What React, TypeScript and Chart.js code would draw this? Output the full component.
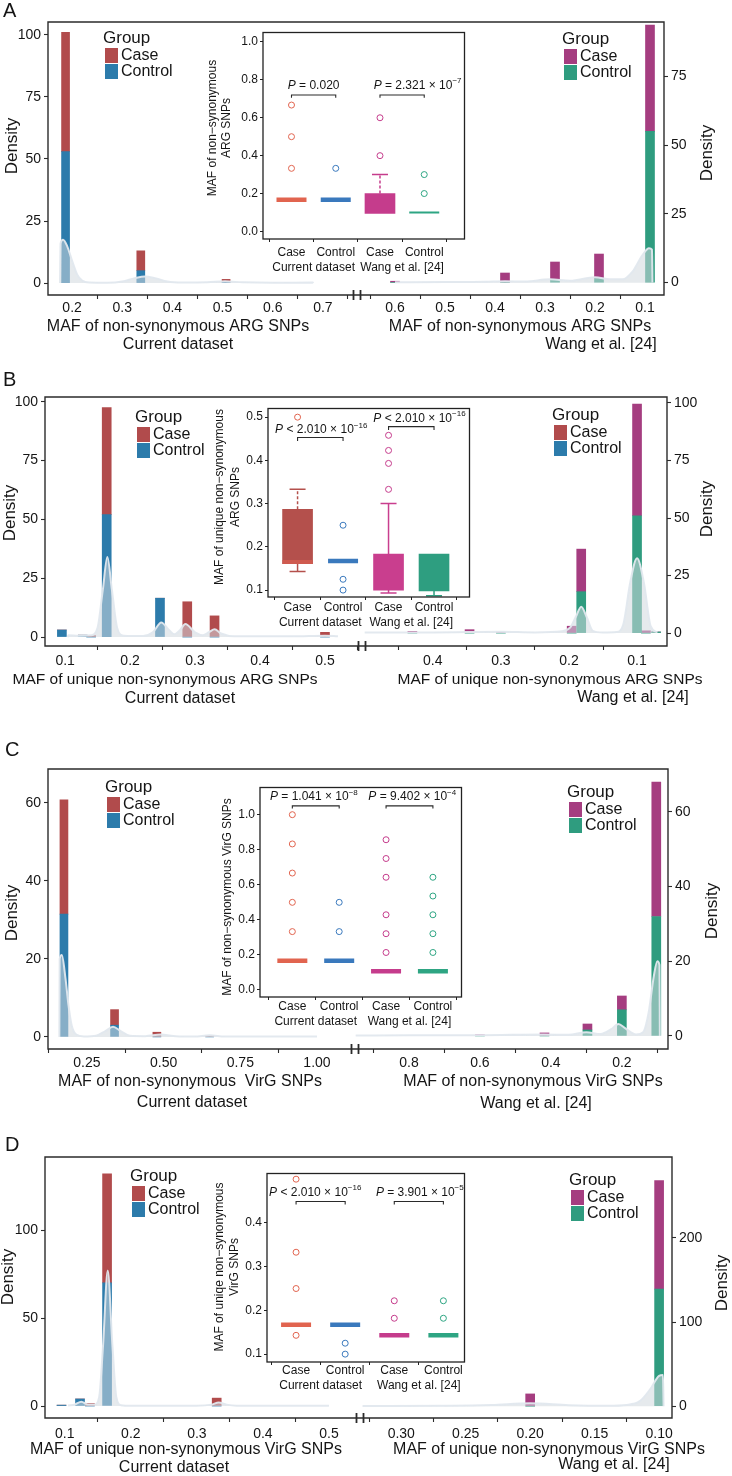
import React, { useEffect, useRef } from 'react';
import { Chart, registerables } from 'chart.js';

Chart.register(...registerables);

const FONT = '"Liberation Sans", Arial, Helvetica, sans-serif';
Chart.defaults.font.family = FONT;

const AXIS = '#2b2b2b';
const INK = '#151515';
const DENS_FILL = 'rgba(210,216,222,0.55)';
const DENS_LINE = 'rgba(225,232,238,0.95)';
const CUR_CASE = '#b14b4c';
const CUR_CTRL = '#2c7bab';
const WANG_CASE = '#a53d80';
const WANG_CTRL = '#2f9c7f';
const IN_COLORS = ['#e1644f', '#3a79bd', '#c53c8c', '#2ea583'];

// ---------- shared text ----------
const Y_TITLE = 'Density';
const LEGEND_TITLE = 'Group';
const LEGEND_KEYS = ['Case', 'Control'];
const CURRENT = 'Current dataset';
const WANG = 'Wang et al. [24]';
const INSET_CATS = ['Case', 'Control', 'Case', 'Control'];
const INSET_GROUPS = [CURRENT, WANG];

// ---------- Panel A ----------
const A_X_TITLE = 'MAF of non-synonymous ARG SNPs';
const A_L_XTICKS = [0.2, 0.3, 0.4, 0.5, 0.6, 0.7];
const A_L_YTICKS = [0, 25, 50, 75, 100];
const A_L_BAR_X = [0.187, 0.337, 0.507];
const A_L_CONTROL = [53, 5, 0.3];
const A_L_CASE = [48, 8, 1.2];
const A_L_DENS_X = [0.176, 0.177, 0.182, 0.19, 0.2, 0.21, 0.22, 0.235, 0.27, 0.3, 0.325, 0.345, 0.365, 0.39, 0.42, 0.47, 0.505, 0.54, 0.6, 0.68, 0.681];
const A_L_DENS_Y = [0, 16, 17.5, 15, 9, 3.5, 1, 0.2, 0.1, 0.6, 2, 2.7, 2, 0.6, 0.2, 0.3, 0.7, 0.3, 0.1, 0.2, 0];
const A_R_XTICKS = [0.1, 0.2, 0.3, 0.4, 0.5, 0.6];
const A_R_YTICKS = [0, 25, 50, 75];
const A_R_BAR_X = [0.09, 0.192, 0.28, 0.38, 0.6];
const A_R_CONTROL = [55, 1.5, 1, 0, 0];
const A_R_CASE = [38.7, 8.9, 6.5, 3.5, 0.5];
const A_R_DENS_X = [0.085, 0.086, 0.092, 0.105, 0.125, 0.145, 0.17, 0.2, 0.25, 0.29, 0.34, 0.38, 0.42, 0.5, 0.6];
const A_R_DENS_Y = [0, 12, 12.5, 10, 4, 1.2, 1.2, 2, 0.7, 1.2, 0.4, 0.5, 0.3, 0.2, 0.1];
const A_IN_Y_TITLE = ['MAF of non\u2212synonymous', 'ARG SNPs'];
const A_IN_YTICKS = [0, 0.2, 0.4, 0.6, 0.8, 1.0];
const A_IN_MEDIAN = [0.167, 0.167, null, 0.1];
const A_IN_BOX = [null, null, [0.095, 0.2], null];
const A_IN_WHISKERS = [[3, 0.2, 0.3]];
const A_IN_OUTLIERS = [[0.667, 0.5, 0.333], [0.333], [0.6, 0.4], [0.3, 0.2]];
const A_IN_P = ['P = 0.020', 'P = 2.321 \u00d7 10^\u22127'];

// ---------- Panel B ----------
const B_X_TITLE = 'MAF of unique non-synonymous ARG SNPs';
const B_L_XTICKS = [0.1, 0.2, 0.3, 0.4, 0.5];
const B_L_YTICKS = [0, 25, 50, 75, 100];
const B_L_BAR_X = [0.095, 0.127, 0.14, 0.164, 0.246, 0.288, 0.33, 0.5];
const B_L_CONTROL = [3, 0.8, 0, 52, 16.5, 0, 0, 0];
const B_L_CASE = [0, 0, 0.6, 45.5, 0, 15, 9, 2];
const B_L_DENS_X = [0.104, 0.105, 0.12, 0.14, 0.15, 0.158, 0.165, 0.172, 0.18, 0.19, 0.22, 0.235, 0.248, 0.26, 0.268, 0.277, 0.285, 0.3, 0.312, 0.322, 0.33, 0.34, 0.36, 0.45, 0.5, 0.52];
const B_L_DENS_Y = [0, 0.8, 0.6, 0.8, 4, 20, 34, 20, 4, 0.6, 0.4, 2, 6.2, 3, 1.2, 3, 5.5, 2, 0.8, 2.2, 3.3, 1.5, 0.3, 0.3, 0.6, 0.3];
const B_R_XTICKS = [0.1, 0.2, 0.3, 0.4];
const B_R_YTICKS = [0, 25, 50, 75, 100];
const B_R_BAR_X = [0.072, 0.087, 0.1, 0.182, 0.196, 0.3, 0.346, 0.43];
const B_R_CONTROL = [0.5, 0, 51, 18, 0, 0, 0, 0];
const B_R_CASE = [0, 1, 48.5, 18.5, 3, 0.4, 1.5, 0.7];
const B_R_DENS_X = [0.07, 0.08, 0.09, 0.1, 0.11, 0.12, 0.13, 0.15, 0.165, 0.174, 0.182, 0.19, 0.198, 0.21, 0.25, 0.3, 0.4, 0.5];
const B_R_DENS_Y = [0.3, 3, 22, 32.5, 22, 4, 0.5, 0.3, 1, 7, 11.5, 7, 2.5, 0.8, 0.3, 0.6, 0.3, 0.3];
const B_IN_Y_TITLE = ['MAF of unique non\u2212synonymous', 'ARG SNPs'];
const B_IN_YTICKS = [0.1, 0.2, 0.3, 0.4, 0.5];
const B_IN_MEDIAN = [0.165, 0.167, null, null];
const B_IN_BOX = [[0.161, 0.287], null, [0.1, 0.183], [0.098, 0.183]];
const B_IN_WHISKERS = [[1, 0.287, 0.333], [1, 0.161, 0.143], [3, 0.183, 0.3], [3, 0.1, 0.093], [4, 0.098, 0.087]];
const B_IN_OUTLIERS = [[0.5], [0.25, 0.125, 0.1], [0.458, 0.423, 0.393, 0.333], []];
const B_IN_P = ['P < 2.010 \u00d7 10^\u221216', 'P < 2.010 \u00d7 10^\u221216'];

// ---------- Panel C ----------
const C_L_X_TITLE = 'MAF of non-synonymous  VirG SNPs';
const C_R_X_TITLE = 'MAF of non-synonymous VirG SNPs';
const C_L_XTICKS = [0.25, 0.5, 0.75, 1.0];
const C_L_YTICKS = [0, 20, 40, 60];
const C_L_BAR_X = [0.175, 0.34, 0.478, 0.65];
const C_L_CONTROL = [31.5, 3, 0, 0];
const C_L_CASE = [29.3, 4, 1.2, 0.3];
const C_L_DENS_X = [0.16, 0.161, 0.168, 0.18, 0.19, 0.2, 0.215, 0.24, 0.28, 0.31, 0.335, 0.36, 0.39, 0.44, 0.49, 0.54, 0.6, 0.65, 0.7, 0.85, 1.0];
const C_L_DENS_Y = [0, 20, 21, 15, 8, 3, 0.6, 0.1, 0.3, 1.5, 2.6, 1.5, 0.3, 0.2, 0.6, 0.2, 0.1, 0.4, 0.1, 0.1, 0.1];
const C_R_XTICKS = [0.2, 0.4, 0.6, 0.8];
const C_R_YTICKS = [0, 20, 40, 60];
const C_R_BAR_X = [0.103, 0.2, 0.297, 0.418, 0.6];
const C_R_CONTROL = [32, 7, 1.6, 0, 0];
const C_R_CASE = [36, 3.7, 1.6, 0.8, 0.3];
const C_R_DENS_X = [0.093, 0.094, 0.1, 0.11, 0.125, 0.14, 0.16, 0.19, 0.21, 0.23, 0.26, 0.3, 0.35, 0.42, 0.6, 0.8, 0.95];
const C_R_DENS_Y = [0, 19, 20, 16, 6, 1, 0.4, 2, 3.2, 1.8, 0.5, 1, 0.3, 0.4, 0.2, 0.2, 0.1];
const C_IN_Y_TITLE = ['MAF of non\u2212synonymous VirG SNPs'];
const C_IN_YTICKS = [0, 0.2, 0.4, 0.6, 0.8, 1.0];
const C_IN_MEDIAN = [0.167, 0.167, 0.107, 0.107];
const C_IN_OUTLIERS = [[1.0, 0.833, 0.667, 0.5, 0.333], [0.5, 0.333], [0.857, 0.75, 0.643, 0.429, 0.321, 0.214], [0.643, 0.536, 0.429, 0.321, 0.214]];
const C_IN_P = ['P = 1.041 \u00d7 10^\u22128', 'P = 9.402 \u00d7 10^\u22124'];

// ---------- Panel D ----------
const D_X_TITLE = 'MAF of unique non-synonymous VirG SNPs';
const D_L_XTICKS = [0.1, 0.2, 0.3, 0.4, 0.5];
const D_L_YTICKS = [0, 50, 100];
const D_L_BAR_X = [0.095, 0.123, 0.138, 0.164, 0.33];
const D_L_CONTROL = [0.5, 4, 0, 70, 0];
const D_L_CASE = [0, 0, 1.5, 62, 4.5];
const D_L_DENS_X = [0.105, 0.115, 0.125, 0.135, 0.145, 0.152, 0.158, 0.165, 0.172, 0.178, 0.185, 0.2, 0.3, 0.322, 0.333, 0.345, 0.36, 0.5];
const D_L_DENS_Y = [0.3, 0.8, 2.5, 0.8, 0.8, 5, 35, 77, 35, 5, 0.5, 0.2, 0.2, 0.8, 2, 0.8, 0.2, 0.2];
const D_R_XTICKS = [0.1, 0.15, 0.2, 0.25, 0.3];
const D_R_YTICKS = [0, 100, 200];
const D_R_BAR_X = [0.1, 0.2];
const D_R_CONTROL = [139, 0];
const D_R_CASE = [129, 14.6];
const D_R_DENS_X = [0.0965, 0.097, 0.1, 0.107, 0.115, 0.125, 0.14, 0.17, 0.2, 0.23, 0.26, 0.33];
const D_R_DENS_Y = [0, 37, 36, 20, 6, 1.5, 0.5, 1.2, 3.5, 1.5, 0.6, 0.3];
const D_IN_Y_TITLE = ['MAF of uniqe non\u2212synonymous', 'VirG SNPs'];
const D_IN_YTICKS = [0.1, 0.2, 0.3, 0.4];
const D_IN_MEDIAN = [0.167, 0.167, 0.143, 0.143];
const D_IN_OUTLIERS = [[0.5, 0.333, 0.25, 0.143], [0.125, 0.1], [0.222, 0.182], [0.222, 0.182]];
const D_IN_P = ['P < 2.010 \u00d7 10^\u221216', 'P = 3.901 \u00d7 10^\u22125'];

// ---------- helpers ----------
type TextItem = { t: string; x: number; y: number; size: number; rot?: boolean; align?: CanvasTextAlign };

function drawTexts(ctx: CanvasRenderingContext2D, items: TextItem[], ox: number, oy: number) {
  items.forEach((it) => {
    ctx.save();
    ctx.fillStyle = INK;
    ctx.font = `${it.size}px ${FONT}`;
    ctx.textBaseline = 'middle';
    ctx.textAlign = it.align || 'center';
    ctx.translate(it.x - ox, it.y - oy);
    if (it.rot) ctx.rotate(-Math.PI / 2);
    ctx.fillText(it.t, 0, 0);
    ctx.restore();
  });
}

function drawRich(ctx: CanvasRenderingContext2D, label: string, cx: number, cy: number, size: number) {
  const [main, sup] = label.split('^');
  const parts: { t: string; f: string; dy: number }[] = [
    { t: main.slice(0, 1), f: `italic ${size}px ${FONT}`, dy: 0 },
    { t: main.slice(1), f: `${size}px ${FONT}`, dy: 0 },
  ];
  if (sup) parts.push({ t: sup, f: `${Math.round(size * 0.68)}px ${FONT}`, dy: -size * 0.4 });
  let total = 0;
  const ws = parts.map((p) => {
    ctx.font = p.f;
    const w = ctx.measureText(p.t).width;
    total += w;
    return w;
  });
  let x = cx - total / 2;
  ctx.fillStyle = INK;
  ctx.textAlign = 'left';
  ctx.textBaseline = 'middle';
  parts.forEach((p, i) => {
    ctx.font = p.f;
    ctx.fillText(p.t, x, cy + p.dy);
    x += ws[i];
  });
}

function fixedTicks(values: number[]) {
  return (sc: any) => {
    sc.ticks = values.map((v) => ({ value: v }));
  };
}

function halfConfig(s: any) {
  const isLeft = s.side === 'left';
  const padTop = s.ay0 - s.cy;
  const xH = s.cy + s.ch - s.ay1;
  const yW = isLeft ? s.ax0 - s.cx : s.cx + s.cw - s.ax1;
  const gridOpts = { display: true, drawOnChartArea: false, drawTicks: true, tickLength: 4, tickColor: AXIS, tickWidth: 1.1 };
  const datasets: any[] = [
    {
      type: 'line',
      data: s.densX.map((x: number, i: number) => ({ x, y: s.densY[i] })),
      fill: 'origin',
      backgroundColor: DENS_FILL,
      borderColor: DENS_LINE,
      borderWidth: 2,
      pointRadius: 0,
      cubicInterpolationMode: 'monotone',
      tension: 0.4,
      order: 0,
    },
    {
      type: 'bar',
      label: LEGEND_KEYS[1],
      data: s.barX.map((x: number, i: number) => ({ x, y: s.ctrl[i] })),
      backgroundColor: s.barColors[1],
      barThickness: s.barW,
      order: 1,
    },
    {
      type: 'bar',
      label: LEGEND_KEYS[0],
      data: s.barX.map((x: number, i: number) => ({ x, y: s.cases[i] })),
      backgroundColor: s.barColors[0],
      barThickness: s.barW,
      order: 2,
    },
  ];
  const decor = {
    id: 'halfDecor',
    afterDraw(chart: any) {
      const { ctx, chartArea: a } = chart;
      ctx.save();
      ctx.strokeStyle = AXIS;
      ctx.lineWidth = 1.4;
      ctx.beginPath();
      if (isLeft) {
        ctx.moveTo(a.right, a.top);
        ctx.lineTo(a.left, a.top);
        ctx.lineTo(a.left, a.bottom);
        ctx.lineTo(a.right, a.bottom);
      } else {
        ctx.moveTo(a.left, a.top);
        ctx.lineTo(a.right, a.top);
        ctx.lineTo(a.right, a.bottom);
        ctx.lineTo(a.left, a.bottom);
      }
      ctx.stroke();
      if (!isLeft) {
        ctx.lineWidth = 1.8;
        ctx.beginPath();
        ctx.moveTo(a.left - 3.5, a.bottom - 5);
        ctx.lineTo(a.left - 3.5, a.bottom + 5);
        ctx.moveTo(a.left + 3.5, a.bottom - 5);
        ctx.lineTo(a.left + 3.5, a.bottom + 5);
        ctx.stroke();
      }
      // legend
      const lx = s.legend[0] - s.cx;
      const ly = s.legend[1] - s.cy;
      ctx.fillStyle = INK;
      ctx.textAlign = 'left';
      ctx.textBaseline = 'middle';
      ctx.font = `17px ${FONT}`;
      ctx.fillText(LEGEND_TITLE, lx, ly);
      s.legendColors.forEach((c: string, i: number) => {
        ctx.fillStyle = c;
        ctx.fillRect(lx + 2, ly + 10 + 16 * i, 13, 15);
        ctx.fillStyle = INK;
        ctx.font = `16px ${FONT}`;
        ctx.fillText(LEGEND_KEYS[i], lx + 18, ly + 18 + 16 * i);
      });
      drawTexts(ctx, s.texts, s.cx, s.cy);
      ctx.restore();
    },
  };
  return {
    type: 'bar',
    data: { datasets },
    options: {
      responsive: false,
      animation: false,
      events: [],
      layout: {
        padding: {
          left: isLeft ? 0 : s.ax0 - s.cx,
          right: isLeft ? s.cx + s.cw - s.ax1 : 0,
          top: padTop,
          bottom: 0,
        },
      },
      plugins: { legend: { display: false }, tooltip: { enabled: false }, title: { display: false } },
      scales: {
        x: {
          type: 'linear',
          min: s.xMin,
          max: s.xMax,
          reverse: !isLeft,
          stacked: true,
          offset: false,
          grid: gridOpts,
          border: { display: false },
          ticks: {
            autoSkip: false,
            maxRotation: 0,
            minRotation: 0,
            padding: s.xPad,
            color: INK,
            font: { family: FONT, size: 14 },
            callback: (v: any) => Number(v).toFixed(s.xDigits),
          },
          afterBuildTicks: fixedTicks(s.xTicks),
          afterFit: (sc: any) => {
            sc.height = xH;
            sc.paddingLeft = 0;
            sc.paddingRight = 0;
          },
        },
        y: {
          type: 'linear',
          position: s.side,
          min: s.yMin,
          max: s.yMax,
          stacked: true,
          grid: gridOpts,
          border: { display: false },
          ticks: {
            autoSkip: false,
            padding: 3,
            color: INK,
            font: { family: FONT, size: 14 },
            callback: (v: any) => String(v),
          },
          afterBuildTicks: fixedTicks(s.yTicks),
          afterFit: (sc: any) => {
            sc.width = yW;
            sc.paddingTop = 0;
            sc.paddingBottom = 0;
          },
        },
      },
    },
    plugins: [decor],
  };
}

function insetConfig(s: any) {
  const cx = s.x0 - 64;
  const cy = s.y0 - 14;
  const cw = s.x1 - cx + 16;
  const ch = s.y1 - cy + 42;
  const boxData: any[] = [];
  const boxCol: string[] = [];
  s.boxes.forEach((b: any, i: number) => {
    if (b) {
      boxData.push({ x: i + 1, y: b });
      boxCol.push(s.boxColors[i]);
    }
  });
  const medData: any[] = [];
  const medW: number[] = [];
  const medCol: string[] = [];
  s.medians.forEach((m: any, i: number) => {
    if (m !== null) {
      medData.push({ x: i + 1, y: m });
      medW.push(s.medW[i]);
      medCol.push(s.medColors[i]);
    }
  });
  const outData: any[] = [];
  const outCol: string[] = [];
  s.outliers.forEach((arr: number[], i: number) =>
    arr.forEach((v) => {
      outData.push({ x: i + 1, y: v });
      outCol.push(s.colors[i]);
    })
  );
  const br: any[] = [];
  s.brackets.forEach((b: number[], k: number) => {
    const a = 1 + 2 * k;
    const c = a + 1;
    br.push({ x: a, y: b[0] - b[1] }, { x: a, y: b[0] }, { x: c, y: b[0] }, { x: c, y: b[0] - b[1] });
    if (k === 0) br.push({ x: 2.5, y: null });
  });
  const datasets: any[] = [
    {
      type: 'bar',
      data: boxData,
      backgroundColor: boxCol,
      barThickness: 30,
      grouped: false,
      order: 5,
    },
    ...s.whiskers.map((w: number[], k: number) => ({
      type: 'line',
      data: [{ x: w[0], y: w[1] }, { x: w[0], y: w[2] }],
      borderColor: s.boxColors[w[0] - 1],
      borderWidth: 1.5,
      borderDash: s.whiskerDash[k] ? [3, 2] : [],
      pointRadius: 0,
      order: 3,
    })),
    {
      type: 'line',
      showLine: false,
      data: s.whiskers.map((w: number[]) => ({ x: w[0], y: w[2] })),
      pointStyle: 'line',
      pointRadius: 8,
      pointBorderWidth: 1.5,
      pointBorderColor: s.whiskers.map((w: number[]) => s.boxColors[w[0] - 1]),
      order: 3,
    },
    {
      type: 'line',
      showLine: false,
      data: medData,
      pointStyle: 'line',
      pointRadius: 15,
      pointBorderWidth: medW,
      pointBorderColor: medCol,
      order: 2,
    },
    {
      type: 'line',
      showLine: false,
      data: outData,
      pointStyle: 'circle',
      pointRadius: 3,
      pointBorderWidth: 1,
      pointBackgroundColor: 'rgba(255,255,255,0)',
      pointBorderColor: outCol,
      order: 1,
    },
    {
      type: 'line',
      data: br,
      borderColor: '#2a2a2a',
      borderWidth: 1.1,
      pointRadius: 0,
      spanGaps: false,
      order: 0,
    },
  ];
  const tl = 3;
  const xPad = s.catY - s.y1 - tl - 7.2;
  const decor = {
    id: 'insetDecor',
    afterDraw(chart: any) {
      const { ctx, chartArea: a } = chart;
      const xs = chart.scales.x;
      const ys = chart.scales.y;
      ctx.save();
      ctx.strokeStyle = '#222';
      ctx.lineWidth = 1.3;
      ctx.strokeRect(a.left, a.top, a.right - a.left, a.bottom - a.top);
      ctx.fillStyle = INK;
      ctx.font = `12px ${FONT}`;
      ctx.textAlign = 'center';
      ctx.textBaseline = 'middle';
      s.yTitle.forEach((t: string, i: number) => {
        ctx.save();
        ctx.translate(s.yTitleX[i] - cx, s.yTitleY - cy);
        ctx.rotate(-Math.PI / 2);
        ctx.fillText(t, 0, 0);
        ctx.restore();
      });
      INSET_GROUPS.forEach((g, i) => {
        ctx.fillText(g, xs.getPixelForValue(1.5 + 2 * i), s.groupY - cy);
      });
      s.pLabels.forEach((p: string, i: number) => {
        drawRich(ctx, p, xs.getPixelForValue(s.pX[i]), ys.getPixelForValue(s.pY[i]), 12);
      });
      ctx.restore();
    },
  };
  const gridOpts = { display: true, drawOnChartArea: false, drawTicks: true, tickLength: tl, tickColor: '#222', tickWidth: 1 };
  return {
    type: 'bar',
    data: { datasets },
    options: {
      responsive: false,
      animation: false,
      events: [],
      layout: { padding: { left: 0, right: cw - (s.x1 - cx), top: s.y0 - cy, bottom: 0 } },
      plugins: { legend: { display: false }, tooltip: { enabled: false } },
      scales: {
        x: {
          type: 'linear',
          min: s.xMin,
          max: s.xMax,
          offset: false,
          grid: gridOpts,
          border: { display: false },
          ticks: {
            autoSkip: false,
            maxRotation: 0,
            padding: xPad,
            color: INK,
            font: { family: FONT, size: 12 },
            callback: (v: any) => INSET_CATS[Number(v) - 1] || '',
          },
          afterBuildTicks: fixedTicks([1, 2, 3, 4]),
          afterFit: (sc: any) => {
            sc.height = ch - (s.y1 - cy);
            sc.paddingLeft = 0;
            sc.paddingRight = 0;
          },
        },
        y: {
          type: 'linear',
          min: s.yMin,
          max: s.yMax,
          grid: gridOpts,
          border: { display: false },
          ticks: {
            autoSkip: false,
            padding: 2,
            color: INK,
            font: { family: FONT, size: 12 },
            callback: (v: any) => Number(v).toFixed(1),
          },
          afterBuildTicks: fixedTicks(s.yTicks),
          afterFit: (sc: any) => {
            sc.width = s.x0 - cx;
            sc.paddingTop = 0;
            sc.paddingBottom = 0;
          },
        },
      },
    },
    plugins: [decor],
  };
}

// ---------- layout specs ----------
const HALVES: any[] = [
  {
    side: 'left', cx: 0, cw: 357, cy: 0, ch: 358, ax0: 48, ax1: 357, ay0: 22, ay1: 295,
    xMin: 0.152, xMax: 0.768, xTicks: A_L_XTICKS, xDigits: 1, xPad: 1,
    yMin: -4.8, yMax: 105.2, yTicks: A_L_YTICKS,
    barX: A_L_BAR_X, ctrl: A_L_CONTROL, cases: A_L_CASE, barW: 8, densX: A_L_DENS_X, densY: A_L_DENS_Y,
    barColors: [CUR_CASE, CUR_CTRL], legendColors: [CUR_CASE, CUR_CTRL], legend: [103, 38],
    texts: [
      { t: 'A', x: 3, y: 11, size: 20, align: 'left' },
      { t: Y_TITLE, x: 12, y: 146, size: 17, rot: true },
      { t: A_X_TITLE, x: 178, y: 327, size: 16 },
      { t: CURRENT, x: 178, y: 345, size: 16 },
    ],
  },
  {
    side: 'right', cx: 347, cw: 385, cy: 0, ch: 358, ax0: 357, ax1: 664, ay0: 22, ay1: 295,
    xMin: 0.062, xMax: 0.676, xTicks: A_R_XTICKS, xDigits: 1, xPad: 1,
    yMin: -4.5, yMax: 94.8, yTicks: A_R_YTICKS,
    barX: A_R_BAR_X, ctrl: A_R_CONTROL, cases: A_R_CASE, barW: 9, densX: A_R_DENS_X, densY: A_R_DENS_Y,
    barColors: [WANG_CASE, WANG_CTRL], legendColors: [WANG_CASE, WANG_CTRL], legend: [562, 39],
    texts: [
      { t: Y_TITLE, x: 707, y: 153, size: 17, rot: true },
      { t: A_X_TITLE, x: 520, y: 327, size: 16 },
      { t: WANG, x: 601, y: 345, size: 16 },
    ],
  },
  {
    side: 'left', cx: 0, cw: 362, cy: 366, ch: 342, ax0: 45, ax1: 362, ay0: 397, ay1: 646,
    xMin: 0.069, xMax: 0.557, xTicks: B_L_XTICKS, xDigits: 1, xPad: 2.6,
    yMin: -3.8, yMax: 102, yTicks: B_L_YTICKS,
    barX: B_L_BAR_X, ctrl: B_L_CONTROL, cases: B_L_CASE, barW: 9, densX: B_L_DENS_X, densY: B_L_DENS_Y,
    barColors: [CUR_CASE, CUR_CTRL], legendColors: [CUR_CASE, CUR_CTRL], legend: [135, 417],
    texts: [
      { t: 'B', x: 3, y: 380, size: 20, align: 'left' },
      { t: Y_TITLE, x: 10, y: 513, size: 17, rot: true },
      { t: B_X_TITLE, x: 165, y: 680, size: 15.5 },
      { t: CURRENT, x: 180, y: 699, size: 16 },
    ],
  },
  {
    side: 'right', cx: 352, cw: 380, cy: 366, ch: 342, ax0: 362, ax1: 667, ay0: 397, ay1: 646,
    xMin: 0.056, xMax: 0.504, xTicks: B_R_XTICKS, xDigits: 1, xPad: 2.6,
    yMin: -5.6, yMax: 102.6, yTicks: B_R_YTICKS,
    barX: B_R_BAR_X, ctrl: B_R_CONTROL, cases: B_R_CASE, barW: 9, densX: B_R_DENS_X, densY: B_R_DENS_Y,
    barColors: [WANG_CASE, WANG_CTRL], legendColors: [CUR_CASE, CUR_CTRL], legend: [552, 415],
    texts: [
      { t: Y_TITLE, x: 707, y: 509, size: 17, rot: true },
      { t: B_X_TITLE, x: 550, y: 680, size: 15.5 },
      { t: WANG, x: 633, y: 698, size: 16 },
    ],
  },
  {
    side: 'left', cx: 0, cw: 355, cy: 730, ch: 385, ax0: 48, ax1: 355, ay0: 769, ay1: 1049,
    xMin: 0.123, xMax: 1.124, xTicks: C_L_XTICKS, xDigits: 2, xPad: 1.6,
    yMin: -3.1, yMax: 68.7, yTicks: C_L_YTICKS,
    barX: C_L_BAR_X, ctrl: C_L_CONTROL, cases: C_L_CASE, barW: 8, densX: C_L_DENS_X, densY: C_L_DENS_Y,
    barColors: [CUR_CASE, CUR_CTRL], legendColors: [CUR_CASE, CUR_CTRL], legend: [105, 787],
    texts: [
      { t: 'C', x: 5, y: 750, size: 20, align: 'left' },
      { t: Y_TITLE, x: 12, y: 913, size: 17, rot: true },
      { t: C_L_X_TITLE, x: 190, y: 1082, size: 16 },
      { t: CURRENT, x: 192, y: 1103, size: 16 },
    ],
  },
  {
    side: 'right', cx: 345, cw: 387, cy: 730, ch: 385, ax0: 355, ax1: 668, ay0: 769, ay1: 1049,
    xMin: 0.07, xMax: 0.952, xTicks: C_R_XTICKS, xDigits: 1, xPad: 1.6,
    yMin: -3.5, yMax: 71.5, yTicks: C_R_YTICKS,
    barX: C_R_BAR_X, ctrl: C_R_CONTROL, cases: C_R_CASE, barW: 9, densX: C_R_DENS_X, densY: C_R_DENS_Y,
    barColors: [WANG_CASE, WANG_CTRL], legendColors: [WANG_CASE, WANG_CTRL], legend: [567, 792],
    texts: [
      { t: Y_TITLE, x: 712, y: 911, size: 17, rot: true },
      { t: C_R_X_TITLE, x: 533, y: 1082, size: 16 },
      { t: WANG, x: 536, y: 1104, size: 16 },
    ],
  },
  {
    side: 'left', cx: 0, cw: 360, cy: 1118, ch: 358, ax0: 45, ax1: 360, ay0: 1157, ay1: 1418,
    xMin: 0.07, xMax: 0.547, xTicks: D_L_XTICKS, xDigits: 1, xPad: 3.6,
    yMin: -6.8, yMax: 141.5, yTicks: D_L_YTICKS,
    barX: D_L_BAR_X, ctrl: D_L_CONTROL, cases: D_L_CASE, barW: 9, densX: D_L_DENS_X, densY: D_L_DENS_Y,
    barColors: [CUR_CASE, CUR_CTRL], legendColors: [CUR_CASE, CUR_CTRL], legend: [130, 1176],
    texts: [
      { t: 'D', x: 5, y: 1145, size: 20, align: 'left' },
      { t: Y_TITLE, x: 8, y: 1277, size: 17, rot: true },
      { t: D_X_TITLE, x: 186, y: 1450, size: 16 },
      { t: CURRENT, x: 174, y: 1468, size: 16 },
    ],
  },
  {
    side: 'right', cx: 350, cw: 382, cy: 1118, ch: 358, ax0: 360, ax1: 672, ay0: 1157, ay1: 1418,
    xMin: 0.09, xMax: 0.332, xTicks: D_R_XTICKS, xDigits: 2, xPad: 3.6,
    yMin: -14, yMax: 296, yTicks: D_R_YTICKS,
    barX: D_R_BAR_X, ctrl: D_R_CONTROL, cases: D_R_CASE, barW: 9, densX: D_R_DENS_X, densY: D_R_DENS_Y,
    barColors: [WANG_CASE, WANG_CTRL], legendColors: [WANG_CASE, WANG_CTRL], legend: [569, 1180],
    texts: [
      { t: Y_TITLE, x: 722, y: 1283, size: 17, rot: true },
      { t: D_X_TITLE, x: 549, y: 1450, size: 16 },
      { t: WANG, x: 614, y: 1465, size: 16 },
    ],
  },
];

const INSETS: any[] = [
  {
    x0: 263, x1: 468, y0: 27, y1: 239, xMin: 0.356, xMax: 4.91, yMin: -0.04, yMax: 1.05, yTicks: A_IN_YTICKS,
    catY: 253, groupY: 268, yTitle: A_IN_Y_TITLE, yTitleX: [213, 227], yTitleY: 128,
    medians: A_IN_MEDIAN, medW: [4.5, 4.5, 0, 2], medColors: IN_COLORS,
    boxes: A_IN_BOX, whiskers: A_IN_WHISKERS, whiskerDash: [true], outliers: A_IN_OUTLIERS,
    colors: IN_COLORS, boxColors: IN_COLORS,
    pLabels: A_IN_P, pX: [1.5, 3.85], pY: [0.77, 0.77], brackets: [[0.72, 0.015], [0.72, 0.015]],
  },
  {
    x0: 268, x1: 473, y0: 403, y1: 597, xMin: 0.35, xMax: 4.78, yMin: 0.084, yMax: 0.52, yTicks: B_IN_YTICKS,
    catY: 608, groupY: 623, yTitle: B_IN_Y_TITLE, yTitleX: [220, 236], yTitleY: 497,
    medians: B_IN_MEDIAN, medW: [4, 4.5, 0, 0], medColors: ['#cf5a4f', IN_COLORS[1], IN_COLORS[2], IN_COLORS[3]],
    boxes: B_IN_BOX, whiskers: B_IN_WHISKERS, whiskerDash: [true, false, false, false, false], outliers: B_IN_OUTLIERS,
    colors: IN_COLORS, boxColors: ['#b4504c', IN_COLORS[1], '#c93e8e', '#2e9e80'],
    pLabels: B_IN_P, pX: [1.52, 3.68], pY: [0.47, 0.497], brackets: [[0.453, 0.008], [0.478, 0.008]],
  },
  {
    x0: 260, x1: 465, y0: 782, y1: 997, xMin: 0.31, xMax: 4.61, yMin: -0.04, yMax: 1.155, yTicks: C_IN_YTICKS,
    catY: 1007, groupY: 1022, yTitle: C_IN_Y_TITLE, yTitleX: [228], yTitleY: 897,
    medians: C_IN_MEDIAN, medW: [4.5, 4.5, 4.5, 4.5], medColors: IN_COLORS,
    boxes: [null, null, null, null], whiskers: [], whiskerDash: [], outliers: C_IN_OUTLIERS,
    colors: IN_COLORS, boxColors: IN_COLORS,
    pLabels: C_IN_P, pX: [1.46, 3.56], pY: [1.1, 1.1], brackets: [[1.05, 0.015], [1.05, 0.015]],
  },
  {
    x0: 267, x1: 468, y0: 1168, y1: 1362, xMin: 0.408, xMax: 4.43, yMin: 0.082, yMax: 0.513, yTicks: D_IN_YTICKS,
    catY: 1371, groupY: 1386, yTitle: D_IN_Y_TITLE, yTitleX: [220, 235], yTitleY: 1267,
    medians: D_IN_MEDIAN, medW: [4.5, 4.5, 4.5, 4.5], medColors: IN_COLORS,
    boxes: [null, null, null, null], whiskers: [], whiskerDash: [], outliers: D_IN_OUTLIERS,
    colors: IN_COLORS, boxColors: IN_COLORS,
    pLabels: D_IN_P, pX: [1.39, 3.52], pY: [0.469, 0.469], brackets: [[0.449, 0.007], [0.449, 0.007]],
  },
];

function ChartBox({ x, y, w, h, make }: { x: number; y: number; w: number; h: number; make: () => any }) {
  const ref = useRef<HTMLCanvasElement>(null);
  useEffect(() => {
    const chart = new Chart(ref.current as HTMLCanvasElement, make());
    return () => chart.destroy();
  }, []);
  return (
    <canvas
      ref={ref}
      width={w}
      height={h}
      style={{ position: 'absolute', left: x, top: y, width: w, height: h }}
    />
  );
}

export default function App() {
  return (
    <div
      style={{
        position: 'absolute',
        left: 0,
        top: 0,
        width: 732,
        height: 1476,
        background: '#ffffff',
        overflow: 'hidden',
        fontFamily: FONT,
      }}
    >
      {HALVES.map((h, i) => (
        <ChartBox key={'h' + i} x={h.cx} y={h.cy} w={h.cw} h={h.ch} make={() => halfConfig(h)} />
      ))}
      {INSETS.map((s, i) => {
        const cx = s.x0 - 64;
        const cy = s.y0 - 14;
        const cw = s.x1 - cx + 16;
        const ch = s.y1 - cy + 42;
        return <ChartBox key={'in' + i} x={cx} y={cy} w={cw} h={ch} make={() => insetConfig(s)} />;
      })}
    </div>
  );
}
